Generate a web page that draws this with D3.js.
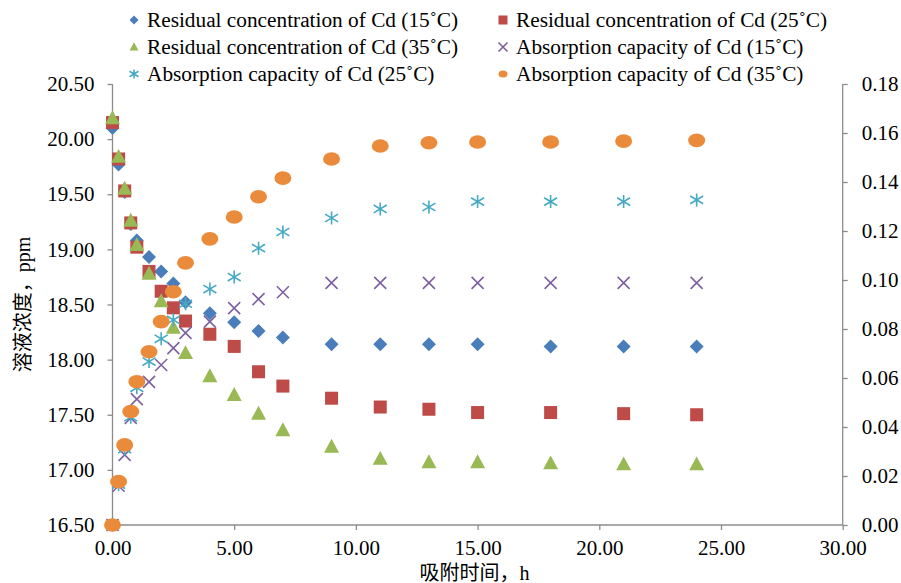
<!DOCTYPE html>
<html>
<head>
<meta charset="utf-8">
<script src="https://cdn.jsdelivr.net/npm/d3@7"></script>
<style>
  body { margin: 0; background: #fff; }
  svg text { fill: #000; }
</style>
</head>
<body>
<svg id="chart" width="901" height="583"></svg>
<script>
// sampling times (h)
var times = [0, 0.25, 0.5, 0.75, 1, 1.5, 2, 2.5, 3, 4, 5, 6, 7, 9, 11, 13, 15, 18, 21, 24];

// residual concentration, ppm (left axis)
var resid15 = [20.10, 19.77, 19.52, 19.23, 19.08, 18.93, 18.80, 18.69, 18.52, 18.42, 18.34, 18.26, 18.20, 18.14, 18.14, 18.14, 18.14, 18.12, 18.12, 18.12];
var resid25 = [20.15, 19.82, 19.53, 19.24, 19.02, 18.80, 18.62, 18.47, 18.35, 18.23, 18.12, 17.89, 17.76, 17.65, 17.57, 17.55, 17.52, 17.52, 17.51, 17.50];
var resid35 = [20.19, 19.84, 19.55, 19.26, 19.04, 18.78, 18.53, 18.29, 18.06, 17.85, 17.68, 17.51, 17.36, 17.21, 17.10, 17.07, 17.07, 17.06, 17.05, 17.05];

// absorption capacity (right axis)
var absorb15 = [0, 0.016, 0.0286, 0.0437, 0.0514, 0.0584, 0.0653, 0.0722, 0.0784, 0.083, 0.0885, 0.0922, 0.095, 0.0988, 0.0988, 0.0988, 0.0988, 0.0988, 0.0988, 0.0988];
var absorb25 = [0, 0.0165, 0.031, 0.044, 0.056, 0.0667, 0.076, 0.0837, 0.0903, 0.0963, 0.1012, 0.113, 0.1196, 0.1253, 0.129, 0.1298, 0.132, 0.132, 0.132, 0.1327];
var absorb35 = [0, 0.0177, 0.0327, 0.0463, 0.0585, 0.0707, 0.083, 0.0952, 0.107, 0.1168, 0.1257, 0.134, 0.1416, 0.1494, 0.1547, 0.156, 0.1563, 0.1563, 0.1567, 0.157];

var xTicks = [0, 5, 10, 15, 20, 25, 30];
var leftTicks = [16.5, 17, 17.5, 18, 18.5, 19, 19.5, 20, 20.5];
var rightTicks = [0, 0.02, 0.04, 0.06, 0.08, 0.10, 0.12, 0.14, 0.16, 0.18];

var seriesNames = [
  'Residual concentration of Cd (15˚C)',
  'Residual concentration of Cd (25˚C)',
  'Residual concentration of Cd (35˚C)',
  'Absorption capacity of Cd (15˚C)',
  'Absorption capacity of Cd (25˚C)',
  'Absorption capacity of Cd (35˚C)'
];

var svg = d3.select('#chart');
var plot = {left: 112.5, right: 842.7, top: 84, bottom: 525};
var axisColor = '#8c8c8c';
var serif = '"Liberation Serif", "Noto Sans CJK SC", serif';

var x = d3.scaleLinear().domain([0, 30]).range([plot.left, plot.right]);
var yL = d3.scaleLinear().domain([16.5, 20.5]).range([plot.bottom, plot.top]);
var yR = d3.scaleLinear().domain([0, 0.18]).range([plot.bottom, plot.top]);

// marker painters, s = nominal width
function marker(g, kind, cx, cy, s) {
  var h = s / 2;
  if (kind === 'diamond') {
    g.append('path').attr('d', 'M' + cx + ',' + (cy - h) + 'L' + (cx + h) + ',' + cy + 'L' + cx + ',' + (cy + h) + 'L' + (cx - h) + ',' + cy + 'Z')
      .attr('fill', '#4A7EBB');
  } else if (kind === 'square') {
    g.append('rect').attr('x', cx - h).attr('y', cy - h).attr('width', s).attr('height', s)
      .attr('fill', '#BE4B48');
  } else if (kind === 'triangle') {
    g.append('path').attr('d', 'M' + cx + ',' + (cy - h * 1.05) + 'L' + (cx + h) + ',' + (cy + h * 0.8) + 'L' + (cx - h) + ',' + (cy + h * 0.8) + 'Z')
      .attr('fill', '#98B954');
  } else if (kind === 'cross') {
    g.append('path').attr('d', 'M' + (cx - h) + ',' + (cy - h) + 'L' + (cx + h) + ',' + (cy + h) + 'M' + (cx + h) + ',' + (cy - h) + 'L' + (cx - h) + ',' + (cy + h))
      .attr('stroke', '#7D60A0').attr('stroke-width', 1.6).attr('fill', 'none');
  } else if (kind === 'star') {
    g.append('path').attr('d', 'M' + cx + ',' + (cy - h) + 'L' + cx + ',' + (cy + h) +
        'M' + (cx - h) + ',' + (cy - h * 0.6) + 'L' + (cx + h) + ',' + (cy + h * 0.6) +
        'M' + (cx + h) + ',' + (cy - h * 0.6) + 'L' + (cx - h) + ',' + (cy + h * 0.6))
      .attr('stroke', '#46AAC5').attr('stroke-width', 1.6).attr('fill', 'none');
  } else if (kind === 'circle') {
    g.append('ellipse').attr('cx', cx).attr('cy', cy).attr('rx', h).attr('ry', h * 0.8)
      .attr('fill', '#EA8B3B');
  }
}

var series = [
  {data: resid15, kind: 'diamond', size: 14, y: yL},
  {data: resid25, kind: 'square', size: 13, y: yL},
  {data: resid35, kind: 'triangle', size: 15, y: yL},
  {data: absorb15, kind: 'cross', size: 12, y: yR},
  {data: absorb25, kind: 'star', size: 13, y: yR},
  {data: absorb35, kind: 'circle', size: 17, y: yR}
];

// axes
var axL = d3.axisLeft(yL).tickValues(leftTicks).tickFormat(d3.format('.2f')).tickSize(5).tickPadding(13);
var axR = d3.axisRight(yR).tickValues(rightTicks).tickFormat(d3.format('.2f')).tickSize(5).tickPadding(14);
var axB = d3.axisBottom(x).tickValues(xTicks).tickFormat(d3.format('.2f')).tickSize(5).tickPadding(8);

function styleAxis(g) {
  g.attr('font-family', null);
  g.selectAll('line').attr('stroke', axisColor).attr('stroke-width', 1.3);
  g.selectAll('text').attr('font-size', 21).attr('fill', '#000').style('font-family', serif);
  g.select('.domain').remove();
}

var gL = svg.append('g').attr('transform', 'translate(' + plot.left + ',0)').call(axL);
styleAxis(gL);
var gR = svg.append('g').attr('transform', 'translate(' + plot.right + ',0)').call(axR);
styleAxis(gR);
var gB = svg.append('g').attr('transform', 'translate(0,' + plot.bottom + ')').call(axB);
styleAxis(gB);
gB.selectAll('text').attr('dy', '0.8em');

// axis lines
svg.append('line').attr('x1', plot.left).attr('x2', plot.left).attr('y1', plot.top).attr('y2', plot.bottom)
  .attr('stroke', axisColor).attr('stroke-width', 1.3);
svg.append('line').attr('x1', plot.right).attr('x2', plot.right).attr('y1', plot.top).attr('y2', plot.bottom)
  .attr('stroke', axisColor).attr('stroke-width', 1.3);
svg.append('line').attr('x1', plot.left).attr('x2', plot.right).attr('y1', plot.bottom).attr('y2', plot.bottom)
  .attr('stroke', axisColor).attr('stroke-width', 1.3);

// markers
var gm = svg.append('g');
series.forEach(function(s) {
  s.data.forEach(function(v, i) {
    marker(gm, s.kind, x(times[i]), s.y(v), s.size);
  });
});

// axis titles
svg.append('text').attr('transform', 'translate(23,' + ((plot.top + plot.bottom) / 2) + ') rotate(-90)')
  .attr('text-anchor', 'middle').attr('dominant-baseline', 'central').attr('font-size', 20)
  .style('font-family', serif).text('溶液浓度，ppm');
svg.append('text').attr('x', (plot.left + plot.right) / 2 - 3).attr('y', 573)
  .attr('text-anchor', 'middle').attr('dominant-baseline', 'central').attr('font-size', 20)
  .style('font-family', serif).text('吸附时间，h');

// legend
var legendPos = [[134, 20], [503, 20], [134, 47], [503, 47], [134, 74], [503, 74]];
var lg = svg.append('g');
seriesNames.forEach(function(name, i) {
  var p = legendPos[i];
  marker(lg, series[i].kind, p[0], p[1], 9);
  lg.append('text').attr('x', p[0] + 13).attr('y', p[1]).attr('dominant-baseline', 'central')
    .attr('font-size', 21.3).style('font-family', serif).text(name);
});
</script>
</body>
</html>
